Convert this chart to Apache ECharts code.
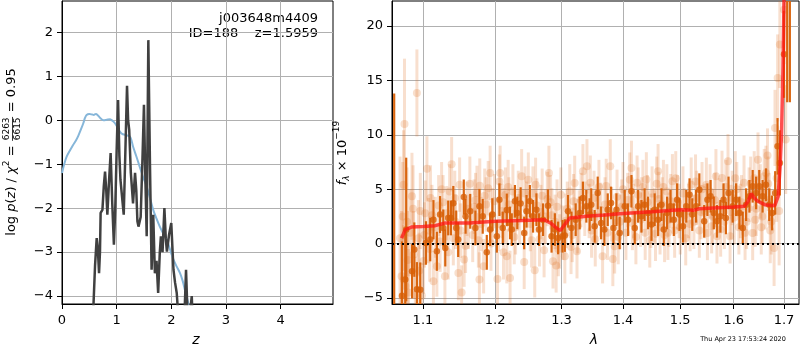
<!DOCTYPE html>
<html><head><meta charset="utf-8">
<script src="https://cdn.jsdelivr.net/npm/echarts@6/dist/echarts.min.js"></script>
<style>html,body{margin:0;padding:0;background:#fff}#c{width:800px;height:350px}</style>
</head><body><div id="c"></div>
<script>
// ---------- data ----------
const pzZ = [0.50,0.573,0.605,0.635,0.655,0.678,0.695,0.707,0.74,0.765,0.788,0.81,0.83,0.86,0.89,0.92,0.95,0.975,1.0,1.026,1.05,1.07,1.09,1.13,1.16,1.19,1.21,1.23,1.26,1.30,1.337,1.36,1.38,1.40,1.44,1.47,1.50,1.52,1.55,1.58,1.61,1.64,1.67,1.70,1.73,1.76,1.79,1.81,1.84,1.874,1.90,1.92,1.96,2.0,2.04,2.07,2.10,2.12,2.18,2.24,2.27,2.30,2.35,2.375,2.39,2.45];
const pzLog = [-7,-4.3,-3.3,-2.68,-2.9,-3.48,-3.0,-2.11,-2.04,-1.5,-1.17,-1.6,-2.15,-1.4,-0.75,-1.9,-2.83,-2.0,-0.7,0.46,-0.8,-1.36,-1.4,-2.15,-0.7,0.78,0.0,-0.22,-1.2,-1.89,-1.2,-1.6,-2.3,-2.42,-2.2,-1.0,0.35,-1.0,-2.64,1.82,-1.0,-3.40,-2.15,-3.48,-3.2,-3.93,-3.0,-2.64,-3.0,-2.0,-2.7,-2.99,-2.6,-2.34,-3.40,-3.7,-3.93,-4.3,-5,-4.5,-3.40,-4.5,-4.3,-4.0,-4.5,-7];
const priorZ = [0,0.04,0.085,0.15,0.2,0.26,0.3,0.35,0.39,0.42,0.45,0.5,0.55,0.58,0.62,0.65,0.7,0.76,0.82,0.88,0.93,0.97,1.02,1.06,1.1,1.15,1.2,1.24,1.27,1.3,1.36,1.42,1.48,1.55,1.61,1.67,1.73,1.79,1.85,1.92,1.98,2.04,2.10,2.16,2.21,2.25,2.31,2.36,2.45];
const priorLog = [-1.2,-1.0,-0.83,-0.68,-0.57,-0.45,-0.35,-0.2,-0.07,0.05,0.12,0.14,0.13,0.12,0.14,0.12,0.05,0.0,0.01,0.02,-0.02,-0.07,-0.17,-0.26,-0.31,-0.33,-0.35,-0.37,-0.45,-0.6,-0.82,-1.05,-1.28,-1.51,-1.77,-2.04,-2.24,-2.42,-2.57,-2.72,-2.95,-3.17,-3.33,-3.48,-3.66,-3.86,-4.16,-4.5,-5.2];
const zTicks = [0,1,2,3,4];
const pzTicks = [-4,-3,-2,-1,0,1,2];
const lamTicks = [1.1,1.2,1.3,1.4,1.5,1.6,1.7];
const fluxTicks = [-5,0,5,10,15,20];
const modelLam = [1.0720,1.0725,1.0768,1.0856,1.1000,1.1164,1.1300,1.1636,1.2000,1.2400,1.2726,1.2827,1.2920,1.2981,1.3030,1.3130,1.3400,1.3700,1.4000,1.4500,1.5000,1.5240,1.5350,1.5700,1.6000,1.6210,1.6280,1.6340,1.6400,1.6470,1.6610,1.6810,1.6880,1.6920,1.6950,1.6980,1.7000,1.7020];
const modelFlux = [0.5,0.67,1.29,1.53,1.58,1.65,1.9,1.9,2.05,2.12,2.2,1.9,1.45,1.2,1.59,2.36,2.51,2.62,2.76,2.92,3.12,3.06,3.2,3.3,3.37,3.43,3.9,4.6,4.2,3.89,3.58,3.49,4.35,7.1,10.2,16.3,22.4,30];
// [lambda, flux, error]
const darkPts = [
[1.0625,-6.5,20.3],[1.0725,-4.8,5],[1.0768,-3.3,4.5],[1.078,1.3,6.6],[1.0856,-2.54,2.5],[1.0886,-0.55,2.5],[1.0920,-4.2,2.5],[1.0964,-4.23,2.5],
[1.1040,0.06,2.0],[1.1097,0.37,2.0],[1.1140,2.2,1.8],[1.1186,-0.7,1.8],[1.1229,2.67,1.7],[1.1273,1.44,1.7],[1.1300,-0.4,1.7],[1.1340,2.36,1.6],
[1.1377,2.36,1.6],[1.1410,3.7,1.6],[1.1450,1.44,1.6],[1.1477,0.37,1.6],[1.1555,4.29,1.6],[1.1580,2.51,1.6],[1.1645,2.97,1.6],[1.1718,1.44,1.6],
[1.1775,3.43,1.6],[1.1822,2.51,1.6],[1.1880,-0.8,1.6],[1.1928,1.29,1.5],[1.1960,2.67,1.5],[1.2025,0.67,1.5],[1.2062,4.04,1.5],[1.2111,1.44,1.5],
[1.2170,3.1,1.5],[1.2218,1.9,1.5],[1.2243,1.29,1.5],[1.2290,3.89,1.5],[1.2325,2.82,1.5],[1.2375,3.68,1.5],[1.2428,0.98,1.5],[1.2463,2.97,1.5],
[1.2513,3.89,1.5],[1.2562,2.51,1.5],[1.2613,3.12,1.5],[1.2652,1.29,1.5],[1.2713,2.2,1.5],[1.2789,3.49,1.5],[1.2845,0.67,1.5],[1.2896,1.29,1.5],
[1.2947,0.52,1.5],[1.3016,0.67,1.5],[1.3052,0.74,1.5],[1.3103,2.97,1.5],[1.3157,1.44,1.5],[1.3224,2.2,1.5],[1.3288,2.82,1.5],[1.3340,4.2,1.5],
[1.3395,3.43,1.5],[1.3448,2.67,1.5],[1.3475,3.58,1.5],[1.3530,1.59,1.5],[1.3580,4.66,1.5],[1.3635,1.9,1.5],[1.3690,1.29,1.5],[1.3745,3.12,1.5],
[1.3800,3.74,1.5],[1.3840,1.44,1.5],[1.3890,3.12,1.5],[1.3944,0.98,1.5],[1.4030,3.43,1.5],[1.4087,2.2,1.5],[1.4144,4.81,1.5],[1.4200,1.44,1.5],
[1.4257,3.43,1.5],[1.4315,2.51,1.5],[1.4370,3.58,1.5],[1.4430,2.82,1.5],[1.4490,1.75,1.5],[1.4545,3.12,1.5],[1.4605,2.2,1.5],[1.4665,3.58,1.5],
[1.4706,1.29,1.5],[1.4765,2.82,1.5],[1.4826,3.43,1.5],[1.4885,2.2,1.5],[1.4944,4.04,1.5],[1.4988,2.67,1.5],[1.5050,1.59,1.5],[1.5110,3.43,1.5],
[1.5170,4.5,1.5],[1.5220,2.67,1.5],[1.5290,3.43,1.5],[1.5350,4.96,1.5],[1.5440,2.05,1.5],[1.5500,4.04,1.5],[1.5560,4.35,1.5],[1.5620,2.82,1.5],
[1.5680,2.05,1.5],[1.5745,2.51,1.5],[1.5805,4.04,1.5],[1.5850,2.36,1.5],[1.5900,4.66,1.5],[1.5980,3.43,1.5],[1.6046,4.04,1.5],[1.6110,2.82,1.5],
[1.6175,1.44,1.5],[1.6240,3.58,1.5],[1.6306,4.35,1.5],[1.6370,5.27,1.5],[1.6438,4.66,1.5],[1.6500,5.27,1.5],[1.6567,4.35,1.5],[1.6634,5.42,1.5],
[1.6700,3.58,1.5],[1.6757,2.82,1.6],[1.6820,4.66,2],[1.6868,8.94,2.6],[1.6915,7.42,3],[1.7000,17.4,4],[1.7065,30,17],[1.7120,30,17]
];
const lightPts = [
[1.0700,0.5,7.5],[1.0720,-3.0,6],[1.0735,2.5,5],[1.0745,5.42,5],[1.0748,-3.3,5],[1.0758,11.0,6],[1.0770,-3.9,5],[1.0790,2.0,5],[1.0800,-1.5,4.5],[1.0810,-4.5,4],
[1.0830,1.0,4],[1.0855,4.35,4],[1.0870,3.2,4],[1.0877,-1.0,4],[1.0900,-4.7,3.5],[1.0920,13.85,4],[1.0940,0.5,3.5],[1.0950,-2.5,3.5],[1.0965,3.0,3.5],[1.0985,-4.8,3],
[1.1008,-1.6,3],[1.1020,0.8,3],[1.1030,2.8,3],[1.1053,6.87,3],[1.1075,1.2,3],[1.1090,-0.5,3],[1.1100,4.2,3],[1.1120,2.6,2.8],[1.1140,-3.46,2.8],[1.1165,1.5,2.8],[1.1186,-2.08,2.8],
[1.1210,3.5,2.8],[1.1230,0.2,2.8],[1.1250,5.0,2.5],[1.1270,3.8,2.5],[1.1295,-3.0,2.8],[1.1320,2.8,2.5],[1.1340,-0.8,2.5],[1.1360,4.8,2.5],[1.1387,7.3,2.5],[1.1410,0.5,2.5],[1.1430,4.2,2.5],[1.1440,2.0,2.5],
[1.1480,-2.7,2.5],[1.1497,5.42,2.5],[1.1510,1.2,2.5],[1.1525,-4.5,2.5],[1.1560,-1.47,2.5],[1.1580,-0.2,2.5],[1.1600,3.2,2.5],[1.1620,2.0,2.5],[1.1640,5.5,2.5],[1.1680,0.8,2.5],[1.1700,3.4,2.5],[1.1720,4.0,2.5],
[1.1740,4.66,2.5],[1.1760,0.3,2.5],[1.1775,-3.3,2.5],[1.1780,5.33,2.5],[1.1800,1.8,2.5],[1.1835,-2.08,2.5],[1.1850,4.4,2.5],[1.1870,3.6,2.5],[1.1900,5.1,2.5],[1.1928,6.5,2.5],[1.1940,0.0,2.5],
[1.1960,2.6,2.5],[1.1990,3.9,2.5],[1.2034,-3.25,2.5],[1.2050,1.8,2.5],[1.2062,5.7,2.5],[1.2073,6.5,2.5],[1.2100,3.0,2.5],[1.2122,-0.8,2.5],[1.2130,2.6,2.5],[1.2150,4.5,2.5],[1.2170,-1.16,2.5],
[1.2190,5.2,2.5],[1.2200,3.6,2.5],[1.2218,-3.15,2.5],[1.2260,4.8,2.5],[1.2280,0.6,2.5],[1.2300,1.5,2.5],[1.2340,4.2,2.5],[1.2360,2.4,2.5],[1.2390,6.19,2.5],[1.2428,-1.68,2.5],[1.2440,4.6,2.5],[1.2460,3.2,2.5],
[1.2490,5.88,2.5],[1.2520,1.8,2.5],[1.2540,0.3,2.5],[1.2560,4.6,2.5],[1.2587,-2.45,2.5],[1.2600,5.4,2.5],[1.2620,3.5,2.5],[1.2660,0.4,2.5],[1.2680,2.9,2.5],[1.2700,4.4,2.5],[1.2730,-0.6,2.5],[1.2750,2.5,2.5],
[1.2780,4.1,2.5],[1.2804,6.5,2.5],[1.2830,3.8,2.5],[1.2850,2.6,2.5],[1.2867,-1.63,2.5],[1.2900,2.0,2.5],[1.2916,-2.0,2.5],[1.2930,3.4,2.5],[1.2950,-0.5,2.5],[1.2970,0.2,2.5],[1.2990,4.5,2.5],[1.3020,1.0,2.5],
[1.3052,-1.16,2.5],[1.3070,2.1,2.5],[1.3090,3.2,2.5],[1.3130,4.8,2.5],[1.3150,-0.3,2.5],[1.3170,0.8,2.5],[1.3190,3.9,2.5],[1.3208,5.58,2.5],[1.3245,-0.7,2.5],[1.3260,1.6,2.5],[1.3280,2.4,2.5],[1.3310,4.0,2.5],
[1.3340,6.65,2.5],[1.3370,3.2,2.5],[1.3405,7.1,2.5],[1.3440,3.0,2.5],[1.3460,5.6,2.5],[1.3480,1.2,2.5],[1.3520,4.2,2.5],[1.3540,0.4,2.5],[1.3560,2.5,2.5],[1.3600,5.2,2.5],[1.3630,3.1,2.5],[1.3660,-1.16,2.5],
[1.3700,3.6,2.5],[1.3720,5.3,2.5],[1.3740,1.0,2.5],[1.3787,7.1,2.5],[1.3810,2.7,2.5],[1.3830,-1.41,2.5],[1.3860,-0.25,2.5],[1.3900,4.3,2.5],[1.3920,0.6,2.5],[1.3950,2.0,2.5],[1.3980,3.4,2.5],[1.4000,5.0,2.5],
[1.4050,1.0,2.5],[1.4080,4.0,2.5],[1.4115,5.88,2.5],[1.4144,6.96,2.5],[1.4160,1.9,2.5],[1.4180,3.0,2.5],[1.4220,0.6,2.5],[1.4240,5.6,2.5],[1.4260,4.5,2.5],[1.4300,2.2,2.5],[1.4320,3.6,2.5],[1.4340,5.2,2.5],
[1.4380,1.0,2.5],[1.4400,5.9,2.5],[1.4420,3.8,2.5],[1.4460,0.3,2.5],[1.4480,2.1,2.5],[1.4500,4.6,2.5],[1.4540,2.6,2.5],[1.4560,0.9,2.5],[1.4580,5.5,2.5],[1.4605,6.65,2.5],[1.4620,4.1,2.5],[1.4640,1.5,2.5],
[1.4680,3.6,2.5],[1.4700,5.2,2.5],[1.4720,0.8,2.5],[1.4760,4.8,2.5],[1.4780,1.0,2.5],[1.4800,2.2,2.5],[1.4830,3.9,2.5],[1.4860,5.73,2.5],[1.4900,1.2,2.5],[1.4920,6.0,2.5],[1.4950,3.8,2.5],[1.4980,3.0,2.5],[1.5000,1.5,2.5],
[1.5050,4.6,2.5],[1.5080,2.6,2.5],[1.5100,0.5,2.5],[1.5150,3.0,2.5],[1.5180,1.8,2.5],[1.5200,5.42,2.5],[1.5250,2.0,2.5],[1.5280,5.7,2.5],[1.5300,4.2,2.5],[1.5350,1.2,2.5],[1.5380,2.9,2.5],[1.5400,5.0,2.5],
[1.5450,3.0,2.5],[1.5480,5.4,2.5],[1.5500,0.98,2.5],[1.5550,4.8,2.5],[1.5580,1.6,2.5],[1.5600,2.5,2.5],[1.5640,4.0,2.5],[1.5660,6.19,2.5],[1.5680,0.67,2.5],[1.5720,3.5,2.5],[1.5750,1.3,2.5],[1.5775,6.04,2.5],
[1.5820,2.0,2.5],[1.5850,5.2,2.5],[1.5890,7.57,2.5],[1.5930,0.67,2.5],[1.5950,2.9,2.5],[1.5970,4.2,2.5],[1.6010,2.4,2.5],[1.6030,6.0,2.5],[1.6060,5.0,2.5],[1.6100,1.5,2.5],[1.6130,3.0,2.5],[1.6150,3.8,2.5],
[1.6200,5.6,2.5],[1.6220,1.0,2.5],[1.6250,2.0,2.5],[1.6300,4.5,2.5],[1.6330,5.5,2.5],[1.6370,0.98,2.5],[1.6400,6.0,2.5],[1.6420,2.2,2.5],[1.6440,3.2,2.5],[1.6475,7.72,2.5],[1.6520,4.8,2.5],[1.6540,1.5,2.5],
[1.6560,2.5,2.5],[1.6600,6.2,2.5],[1.6620,3.8,2.5],[1.6634,6.5,2.5],[1.6665,8.09,2.5],[1.6680,5.5,2.5],[1.6700,4.0,2.5],[1.6720,1.2,3],[1.6740,2.0,3],[1.6798,-0.4,3.5],[1.6816,10.63,3.5],
[1.6850,6.0,4],[1.6870,15.23,4],[1.6900,3.0,5],[1.6915,18.3,4],[1.7000,21.5,5],[1.7035,9.56,5]
];
const titleLines = ['j003648m4409', 'ID=188    z=1.5959'];
const stamp = 'Thu Apr 23 17:53:24 2020';

// ---------- helpers ----------
const FONT = 'DejaVu Sans';
const minusFmt = v => (v < 0 ? '\u2212' + Math.abs(v) : String(v));
const cv = document.createElement('canvas').getContext('2d');
function tw(t, size, italic) { cv.font = (italic ? 'italic ' : '') + size + 'px "' + FONT + '"'; return cv.measureText(t).width; }

function buildLabel(pieces, cx, cy) {
  let total = 0;
  pieces.forEach(p => { p.w = p.frac ? Math.max(tw(p.num, p.size), tw(p.den, p.size)) + 2 : tw(p.t, p.size, p.it); total += p.w; });
  let x = -total / 2;
  const children = [];
  pieces.forEach(p => {
    if (p.frac) {
      children.push({type:'text', x: x + p.w/2, y: -5.5, style:{text:p.num, font: p.size + 'px "' + FONT + '"', fill:'#000', textAlign:'center', textVerticalAlign:'middle'}});
      children.push({type:'text', x: x + p.w/2, y: 6, style:{text:p.den, font: p.size + 'px "' + FONT + '"', fill:'#000', textAlign:'center', textVerticalAlign:'middle'}});
      children.push({type:'line', shape:{x1:x+0.5, y1:0.5, x2:x+p.w-0.5, y2:0.5}, style:{stroke:'#000', lineWidth:0.8}});
    } else {
      children.push({type:'text', x: x, y: p.dy || 0, style:{text:p.t, font:(p.it ? 'italic ' : '') + p.size + 'px "' + FONT + '"', fill:'#000', textAlign:'left', textVerticalAlign:'middle'}});
    }
    x += p.w;
  });
  return {type:'group', x: cx, y: cy, rotation: Math.PI/2, children};
}

function errRender(color, width) {
  return function (params, api) {
    const x = api.value(0), y = api.value(1), e = api.value(2);
    const a = api.coord([x, y - e]), b = api.coord([x, y + e]);
    return {type:'line', shape:{x1:a[0], y1:a[1], x2:b[0], y2:b[1]}, style:{stroke:color, lineWidth:width}};
  };
}

const tickStyle = {length:5, lineStyle:{color:'#000', width:1}};
const labStyle = {color:'#000', fontSize:13, fontFamily:FONT};
const splitStyle = {show:true, lineStyle:{color:'#b0b0b0', width:1}};
const lineAx = {show:true, onZero:false, lineStyle:{color:'#000'}};

const chart = echarts.init(document.getElementById('c'), null, {renderer:'canvas'});
chart.setOption({
  animation:false,
  backgroundColor:'#fff',
  grid:[
    {left:62, top:1, width:271, height:303, show:true, borderColor:'#000', borderWidth:1, backgroundColor:'transparent'},
    {left:392, top:1, width:407, height:303, show:true, borderColor:'#000', borderWidth:1, backgroundColor:'transparent'}
  ],
  xAxis:[
    {gridIndex:0, type:'value', min:0, max:4.96, axisLine:lineAx,
     axisTick:Object.assign({customValues:zTicks}, tickStyle),
     axisLabel:Object.assign({customValues:zTicks, margin:10, formatter:minusFmt}, labStyle),
     splitLine:splitStyle},
    {gridIndex:1, type:'log', logBase:10, min:1.0597, max:1.731, axisLine:lineAx,
     axisTick:Object.assign({customValues:lamTicks}, tickStyle),
     axisLabel:Object.assign({customValues:lamTicks, margin:10, formatter:v => Number(v).toFixed(1)}, labStyle),
     splitLine:splitStyle, minorTick:{show:false}, minorSplitLine:{show:false}}
  ],
  yAxis:[
    {gridIndex:0, type:'value', min:-4.18, max:2.71, axisLine:lineAx,
     axisTick:Object.assign({customValues:pzTicks}, tickStyle),
     axisLabel:Object.assign({customValues:pzTicks, margin:9, formatter:minusFmt}, labStyle),
     splitLine:splitStyle},
    {gridIndex:1, type:'value', min:-5.55, max:22.3, axisLine:lineAx,
     axisTick:Object.assign({customValues:fluxTicks}, tickStyle),
     axisLabel:Object.assign({customValues:fluxTicks, margin:9, formatter:minusFmt}, labStyle),
     splitLine:splitStyle}
  ],
  series:[
    {type:'line', xAxisIndex:0, yAxisIndex:0, data:priorZ.map((z,i)=>[z, priorLog[i]]), showSymbol:false, symbol:'none', smooth:0.3,
     lineStyle:{color:'#86b6d9', width:2}, z:2, silent:true},
    {type:'line', xAxisIndex:0, yAxisIndex:0, data:pzZ.map((z,i)=>[z, pzLog[i]]), showSymbol:false, symbol:'none',
     lineStyle:{color:'#404040', width:2.5}, z:3, silent:true},
    {type:'custom', xAxisIndex:1, yAxisIndex:1, data:lightPts, clip:true, renderItem:errRender('rgba(222,110,30,0.22)', 3), z:2, silent:true},
    {type:'scatter', xAxisIndex:1, yAxisIndex:1, data:lightPts.map(p=>[p[0],p[1]]), symbolSize:8,
     itemStyle:{color:'rgba(222,110,30,0.28)'}, z:2, silent:true},
    {type:'custom', xAxisIndex:1, yAxisIndex:1, data:darkPts, clip:true, renderItem:errRender('#d9650f', 2.2), z:3, silent:true},
    {type:'scatter', xAxisIndex:1, yAxisIndex:1, data:darkPts.map(p=>[p[0],p[1]]), symbolSize:6.5,
     itemStyle:{color:'#d75f06'}, z:3, silent:true},
    {type:'line', xAxisIndex:1, yAxisIndex:1, data:modelLam.map((l,i)=>[l, modelFlux[i]]), showSymbol:false, symbol:'none',
     lineStyle:{color:'rgba(255,20,20,0.75)', width:3.5}, z:4, silent:true,
     markLine:{silent:true, symbol:['none','none'], label:{show:false},
       lineStyle:{color:'#000', width:2, type:[2,3]}, data:[{yAxis:0}]}}
  ],
  graphic:[
    {type:'text', right:800-318, top:12, style:{text:titleLines[0], font:'13px "' + FONT + '"', fill:'#000'}},
    {type:'text', right:800-318, top:27, style:{text:titleLines[1], font:'13px "' + FONT + '"', fill:'#000'}},
    {type:'text', x:196, y:340, style:{text:'z', font:'italic 14px "' + FONT + '"', fill:'#000', textAlign:'center', textVerticalAlign:'middle'}},
    {type:'text', x:594, y:340, style:{text:'\u03bb', font:'italic 14px "' + FONT + '"', fill:'#000', textAlign:'center', textVerticalAlign:'middle'}},
    {type:'text', x:743, y:339, style:{text:stamp, font:'6.5px "' + FONT + '"', fill:'#000', textAlign:'center', textVerticalAlign:'middle'}},
    buildLabel([
      {t:'log ', size:13}, {t:'p', size:13, it:true}, {t:'(', size:13}, {t:'z', size:13, it:true}, {t:') / ', size:13},
      {t:'\u03c7', size:13, it:true}, {t:'2', size:9, dy:-5}, {t:' = ', size:13},
      {frac:true, num:'6263', den:'6615', size:9}, {t:' = 0.95', size:13}
    ], 12, 152),
    buildLabel([
      {t:'f', size:13, it:true}, {t:'\u03bb', size:9, it:true, dy:4}, {t:' \u00d7 10', size:13}, {t:'\u221219', size:9, dy:-6}
    ], 343, 153)
  ]
});
</script></body></html>
